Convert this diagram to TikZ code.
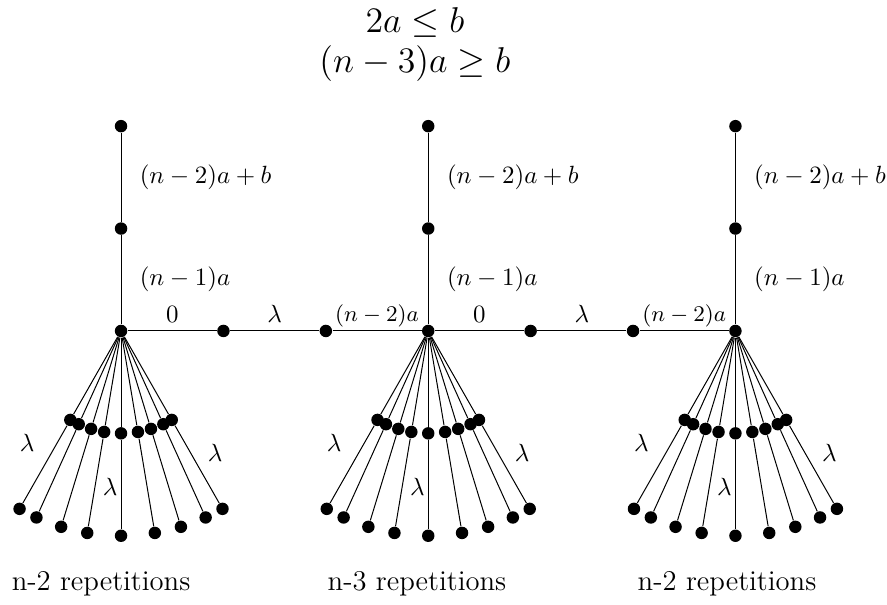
\documentclass[tikz,border=0pt]{standalone}
\usepackage{amsmath}
\usepackage{amssymb}
\usepackage{tikz}
\usetikzlibrary{positioning}

\begin{document}
\begin{tikzpicture}[x=41.1pt, y=41.1pt, node distance=41.1pt, on grid]
    \tikzstyle{dot} = [circle, fill=black, inner sep=0pt, minimum size=5pt]
    \tikzstyle{line} = [draw, line width=0.4pt]
    \tikzstyle{cond} = [anchor=base, inner sep=0pt, font=\Large]
    \tikzstyle{rep} = [anchor=base, font=\fontsize{11.5}{14}\selectfont]
    \useasboundingbox (-1.182,-2.676) rectangle (7.480,3.232);

    \node [cond] (cond1) at (2.87,2.91) {$2a \le b$};
    \node [cond] (cond2) at (2.87,2.52) {$(n-3)a \ge b$};

    % hubs, the path above each one, and the fan below
    \foreach \i/\x in {1/0, 2/3, 3/6} {
        \node [dot] (hub\i) at (\x,0) {};
        \node [dot, above=of hub\i] (mid\i) {};
        \node [dot, above=of mid\i] (top\i) {};
        \path [line] (hub\i) -- node [right=4pt] {$(n-1)a$} (mid\i);
        \path [line] (mid\i) -- node [right=4pt] {$(n-2)a+b$} (top\i);
        \begin{scope}[shift={(\x,0)}]
            \foreach \a [count=\k] in {240.3,245.6,253,260.5,270,279.5,287,294.4,299.7} {
                \node [dot] (in\i-\k) at (\a:1) {};
                \node [dot] (out\i-\k) at (\a:2) {};
                \path [line] (hub\i) -- (in\i-\k);
                \path [line] (in\i-\k) -- (out\i-\k);
            }
            \node (lamL\i) at (-0.918,-1.094) {$\lambda$};
            \node (lamM\i) at (-0.107,-1.523) {$\lambda$};
            \node (lamR\i) at (0.918,-1.19) {$\lambda$};
        \end{scope}
    }

    % the horizontal path
    \node [dot, right=of hub1] (p1) {};
    \node [dot, right=of p1] (q1) {};
    \node [dot, right=of hub2] (p2) {};
    \node [dot, right=of p2] (q2) {};
    \path [line] (hub1) -- node [above] {$0$} (p1);
    \path [line] (p1) -- node [above] {$\lambda$} (q1);
    \path [line] (q1) -- node [above, font=\small, inner sep=1.5pt] {$(n-2)a$} (hub2);
    \path [line] (hub2) -- node [above] {$0$} (p2);
    \path [line] (p2) -- node [above] {$\lambda$} (q2);
    \path [line] (q2) -- node [above, font=\small, inner sep=1.5pt] {$(n-2)a$} (hub3);

    \node [rep] (rep1) at (-0.195,-2.53) {n-2 repetitions};
    \node [rep] (rep2) at (2.89,-2.53) {n-3 repetitions};
    \node [rep] (rep3) at (5.918,-2.53) {n-2 repetitions};
\end{tikzpicture}
\end{document}
